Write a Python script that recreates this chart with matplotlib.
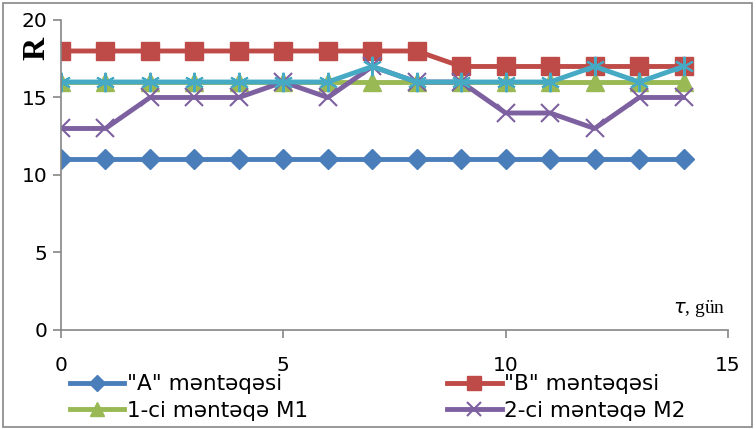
import matplotlib
matplotlib.use('Agg')
import matplotlib.pyplot as plt
from matplotlib.patches import Rectangle

# days
days = list(range(15))
# station series
station_a = [11, 11, 11, 11, 11, 11, 11, 11, 11, 11, 11, 11, 11, 11, 11]
station_b = [18, 18, 18, 18, 18, 18, 18, 18, 18, 17, 17, 17, 17, 17, 17]
point_m1 = [16, 16, 16, 16, 16, 16, 16, 16, 16, 16, 16, 16, 16, 16, 16]
point_m2 = [13, 13, 15, 15, 15, 16, 15, 17, 16, 16, 14, 14, 13, 15, 15]
point_m3 = [16, 16, 16, 16, 16, 16, 16, 17, 16, 16, 16, 16, 17, 16, 17]

labels = ['"A" məntəqəsi', '"B" məntəqəsi', '1-ci məntəqə M1', '2-ci məntəqə M2']
xticks = [0, 5, 10, 15]
yticks = [0, 5, 10, 15, 20]

blue = '#4A7EBB'
red = '#BE4B48'
green = '#98B954'
purple = '#7D60A0'
cyan = '#46AAC5'

fig = plt.figure(figsize=(7.56, 4.29), dpi=100)
ax = fig.add_axes([0.0807, 0.2308, 0.8823, 0.7226])

l_a, = ax.plot(days, station_a, color=blue, lw=3.5, marker='D', ms=10.5, label=labels[0])
l_b, = ax.plot(days, station_b, color=red, lw=3.5, marker='s', ms=13, label=labels[1])
l_m1, = ax.plot(days, point_m1, color=green, lw=3.5, marker='^', ms=13, label=labels[2])
l_m2, = ax.plot(days, point_m2, color=purple, lw=3.5, marker='x', ms=13, mew=1.5, label=labels[3])
ax.plot(days, point_m3, color=cyan, lw=3.5, marker=(6, 2, 0), ms=14, mew=1.5)

ax.set_xlim(0, 15)
ax.set_ylim(0, 20)
ax.set_xticks(xticks)
ax.set_yticks(yticks)
for s in ['top', 'right']:
    ax.spines[s].set_visible(False)
for s in ['left', 'bottom']:
    ax.spines[s].set_color('#868686')
    ax.spines[s].set_linewidth(1.2)
ax.tick_params(axis='both', colors='#868686', labelcolor='black', labelsize=14.5, length=6, width=1.2)
ax.tick_params(axis='x', pad=13)
ax.tick_params(axis='y', pad=4)

fig.text(0.049, 0.886, 'R', rotation=90, ha='center', va='center',
         fontsize=23, fontweight='bold', family='Liberation Serif')
fig.text(0.959, 0.282, r'$\tau$, gün', ha='right', va='center',
         fontsize=14, family='Liberation Serif')

leg_kw = dict(frameon=False, fontsize=15.5, handlelength=2.55, handletextpad=0.1,
              labelspacing=0.3, borderaxespad=0, borderpad=0, markerscale=0.8)
fig.legend([l_a, l_m1], [labels[0], labels[2]], loc='upper left',
           bbox_to_anchor=(0.092, 0.128), **leg_kw)
fig.legend([l_b, l_m2], [labels[1], labels[3]], loc='upper left',
           bbox_to_anchor=(0.591, 0.128), **leg_kw)

fig.patches.append(Rectangle((0.004, 0.005), 0.991, 0.988, transform=fig.transFigure,
                             fill=False, edgecolor='#868686', lw=1.2))

fig.savefig('out.png', dpi=100)
